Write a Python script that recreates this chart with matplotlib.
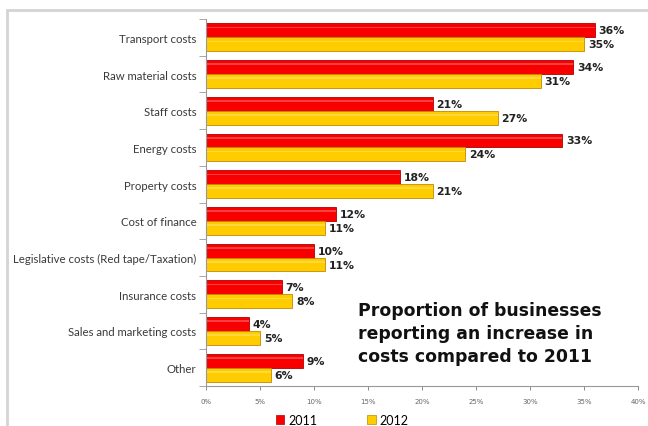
import matplotlib
matplotlib.use("Agg")
import matplotlib.pyplot as plt
from matplotlib.patches import Rectangle
from matplotlib.ticker import FuncFormatter, FixedLocator
import numpy as np

# data
categories = ["Transport costs", "Raw material costs", "Staff costs", "Energy costs",
              "Property costs", "Cost of finance", "Legislative costs (Red tape/Taxation)",
              "Insurance costs", "Sales and marketing costs", "Other"]
vals_2011 = [36, 34, 21, 33, 18, 12, 10, 7, 4, 9]
vals_2012 = [35, 31, 27, 24, 21, 11, 11, 8, 5, 6]
series_names = ["2011", "2012"]

red = "#f80000"
red_edge = "#b00000"
yellow = "#ffcc00"
yellow_edge = "#c08a00"

fig = plt.figure(figsize=(6.48, 4.27), dpi=100)

# light grey frame round the chart area
frame = Rectangle((7 / 648, -0.1), 1.2, (427 - 11) / 427 + 0.1, transform=fig.transFigure,
                  fill=False, edgecolor="#d4d4d4", linewidth=2, zorder=0)
fig.patches.append(frame)

ax = fig.add_axes([206 / 648, 40 / 427, 432 / 648, 367 / 427])

y = np.arange(len(categories))
h = 0.38
bars1 = ax.barh(y - h / 2, vals_2011, h, color=red, edgecolor=red_edge, linewidth=0.6)
bars2 = ax.barh(y + h / 2, vals_2012, h, color=yellow, edgecolor=yellow_edge, linewidth=0.6)

# small highlight stripe on each bar, for the glossy look
for bars in (bars1, bars2):
    for b in bars:
        ax.barh(b.get_y() + b.get_height() * 0.3, b.get_width(), b.get_height() * 0.12,
                color="white", alpha=0.25, linewidth=0)

for bars, vals in ((bars1, vals_2011), (bars2, vals_2012)):
    for b, v in zip(bars, vals):
        ax.text(b.get_width() + 0.35, b.get_y() + b.get_height() / 2, "%d%%" % v,
                ha="left", va="center", fontsize=7.8, fontweight="bold", color="#222222")

ax.set_xlim(0, 40)
ax.set_ylim(len(categories) - 0.5, -0.5)

ax.set_xticks(np.arange(0, 41, 5))
ax.xaxis.set_major_formatter(FuncFormatter(lambda v, p: "%d%%" % v))
ax.tick_params(axis="x", labelsize=5, colors="#777777", length=3, width=0.6, pad=6,
               labelcolor="#666666")

ax.set_yticks(y)
ax.set_yticklabels(categories, fontsize=8.2, color="#3a3a3a", family="Lato")
ax.tick_params(axis="y", which="major", length=0, pad=7)
ax.yaxis.set_minor_locator(FixedLocator(np.arange(-0.5, len(categories), 1)))
ax.tick_params(axis="y", which="minor", length=5, width=0.6, color="#999999")

for s in ("top", "right"):
    ax.spines[s].set_visible(False)
for s in ("left", "bottom"):
    ax.spines[s].set_color("#999999")
    ax.spines[s].set_linewidth(0.8)

ax.text(0.352, 0.232, "Proportion of businesses\nreporting an increase in\ncosts compared to 2011",
        transform=ax.transAxes, fontsize=12.4, fontweight="bold", color="#111111",
        ha="left", va="top", linespacing=1.38)

handles = [Rectangle((0, 0), 1, 1, facecolor=red, edgecolor=red_edge, linewidth=0.5),
           Rectangle((0, 0), 1, 1, facecolor=yellow, edgecolor=yellow_edge, linewidth=0.5)]
fig.legend(handles, series_names, loc="center", bbox_to_anchor=(342 / 648, 6 / 427),
           ncol=2, frameon=False, handlelength=0.7, handleheight=0.7,
           handletextpad=0.3, columnspacing=4, prop={"family": "Lato", "size": 9})

fig.savefig("out.png", dpi=100)
